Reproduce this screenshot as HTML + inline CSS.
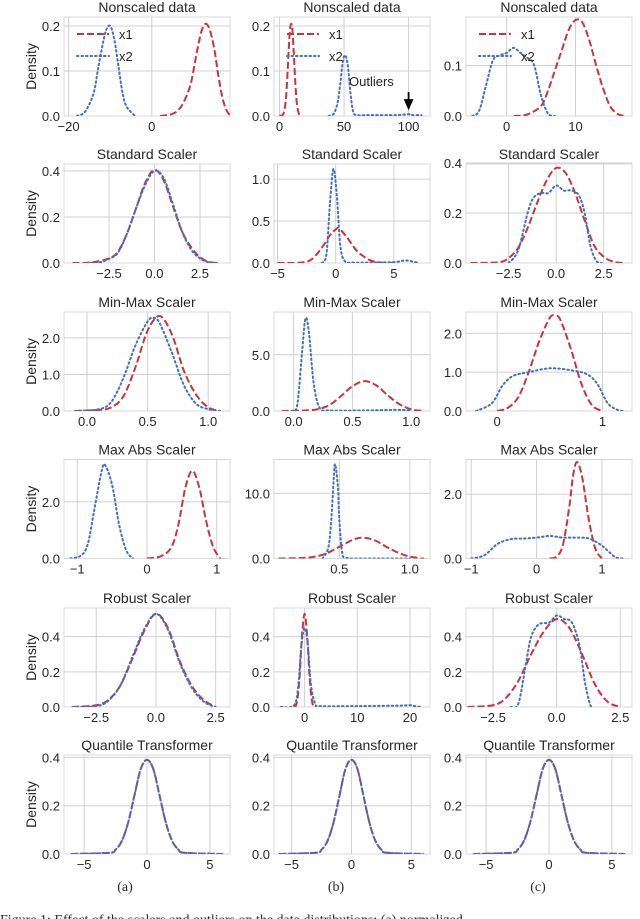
<!DOCTYPE html>
<html><head><meta charset="utf-8">
<style>
html,body{margin:0;padding:0;background:#fff;width:640px;height:919px;overflow:hidden}
svg{display:block}
text{font-family:"Liberation Sans",sans-serif;fill:#262626}
</style></head>
<body>
<svg id="fig" width="640" height="919" viewBox="0 0 640 919" xmlns="http://www.w3.org/2000/svg">
<text x="125" y="891" text-anchor="middle" style="font-family:'Liberation Serif',serif;font-size:14px">(a)</text>
<text x="336" y="891" text-anchor="middle" style="font-family:'Liberation Serif',serif;font-size:14px">(b)</text>
<text x="538" y="891" text-anchor="middle" style="font-family:'Liberation Serif',serif;font-size:14px">(c)</text>
<text x="0" y="924" style="font-family:'Liberation Serif',serif;font-size:14px">Figure 1: Effect of the scalers and outliers on the data distributions: (a) normalized</text>
</svg>
<script>
// ---- data ----
const titles = ["Nonscaled data","Standard Scaler","Min-Max Scaler","Max Abs Scaler","Robust Scaler","Quantile Transformer"];
const colLeft = [64, 274, 466];
const colRight = [230, 430, 632];
const rowBottom = [116, 263, 411, 558.5, 707, 854];
// axis ranges [xmin,xmax,ymax] per panel (row-major)
const xMin = [-21.1,-4.3,-5.9, -4.97,-5.3,-4.74, -0.19,-0.167,-0.295, -1.19,0.037,-1.08, -3.85,-5.8,-3.56, -6.6,-6.47,-6.6];
const xMax = [18.8,116.6,18.2, 4.15,8.1,3.99, 1.18,1.16,1.28, 1.19,1.143,1.46, 3.1,23.8,2.96, 6.6,6.56,6.6];
const yMax = [0.22,0.22,0.196, 0.43,1.18,0.396, 2.71,8.8,2.55, 3.5,15.2,3.08, 0.563,0.563,0.563, 0.41,0.41,0.41];
const yTicks = [[0,0.1,0.2],[0,0.1,0.2],[0,0.1],
 [0,0.2,0.4],[0,0.5,1.0],[0,0.2,0.4],
 [0,1,2],[0,5],[0,1,2],
 [0,2],[0,10],[0,2],
 [0,0.2,0.4],[0,0.2,0.4],[0,0.2,0.4],
 [0,0.2,0.4],[0,0.2,0.4],[0,0.2,0.4]];
const xTicks = [[-20,0],[0,50,100],[0,10],
 [-2.5,0,2.5],[-5,0,5],[-2.5,0,2.5],
 [0,0.5,1],[0,0.5,1],[0,1],
 [-1,0,1],[0.5,1.0],[-1,0,1],
 [-2.5,0,2.5],[0,10,20],[-2.5,0,2.5],
 [-5,0,5],[-5,0,5],[-5,0,5]];
const xTickLabels = [["−20","0"],["0","50","100"],["0","10"],
 ["−2.5","0.0","2.5"],["−5","0","5"],["−2.5","0.0","2.5"],
 ["0.0","0.5","1.0"],["0.0","0.5","1.0"],["0","1"],
 ["−1","0","1"],["0.5","1.0"],["−1","0","1"],
 ["−2.5","0.0","2.5"],["0","10","20"],["−2.5","0.0","2.5"],
 ["−5","0","5"],["−5","0","5"],["−5","0","5"]];
const yTickLabels = [["0.0","0.1","0.2"],["0.0","0.1","0.2"],["0.0","0.1"],
 ["0.0","0.2","0.4"],["0.0","0.5","1.0"],["0.0","0.2","0.4"],
 ["0.0","1.0","2.0"],["0.0","5.0"],["0.0","1.0","2.0"],
 ["0.0","2.0"],["0.0","10.0"],["0.0","2.0"],
 ["0.0","0.2","0.4"],["0.0","0.2","0.4"],["0.0","0.2","0.4"],
 ["0.0","0.2","0.4"],["0.0","0.2","0.4"],["0.0","0.2","0.4"]];
// x1 (red dashed) series
const x1X = [
 [2,5,7,9,10,11,12,13,14,15,16,17,18,19],
 [0,3,5,7,8,9,10,11,13,15,17],
 [1,3,5,6,7,8,9,10,11,12,13,14,15,16,17],
 [-4.5,-3.5,-2.5,-2,-1.5,-1,-0.5,0,0.5,1,1.5,2,2.5,3,3.5],
 [-5,-3,-2,-1,-0.5,0,0.3,1,1.5,2,3,4,5],
 [-4.5,-3,-2.5,-2,-1.5,-1,-0.5,0,0.5,1,1.5,2,2.5,3,3.5],
 [-0.1,0.1,0.2,0.3,0.4,0.5,0.6,0.7,0.8,0.9,1.0,1.1],
 [-0.1,0.1,0.2,0.3,0.4,0.5,0.6,0.7,0.8,0.9,1.0,1.1],
 [0,0.1,0.2,0.3,0.4,0.5,0.55,0.6,0.7,0.8,0.9,1.0],
 [0,0.2,0.35,0.45,0.55,0.65,0.75,0.85,0.95,1.05],
 [0.07,0.2,0.3,0.4,0.5,0.6,0.67,0.75,0.85,0.95,1.05,1.1],
 [0.2,0.3,0.4,0.5,0.56,0.62,0.7,0.8,0.9,1.0],
 [-3.5,-2.5,-2,-1.5,-1,-0.5,0,0.5,1,1.5,2,2.5],
 [-2,-1.5,-1,-0.5,0,0.5,1,1.5,2],
 [-3.5,-2.5,-2,-1.5,-1,-0.5,0,0.5,1,1.5,2,2.5],
 [-6,-3,-2.5,-2,-1.5,-1,-0.5,0,0.5,1,1.5,2,2.5,3,6],
 [-6,-3,-2.5,-2,-1.5,-1,-0.5,0,0.5,1,1.5,2,2.5,3,6],
 [-6,-3,-2.5,-2,-1.5,-1,-0.5,0,0.5,1,1.5,2,2.5,3,6]];
const x1Y = [
 [0,0.005,0.02,0.06,0.1,0.15,0.19,0.205,0.19,0.15,0.09,0.04,0.012,0],
 [0,0.005,0.04,0.14,0.19,0.205,0.19,0.14,0.04,0.005,0],
 [0,0.003,0.02,0.05,0.09,0.13,0.17,0.19,0.185,0.15,0.1,0.055,0.02,0.005,0],
 [0,0.002,0.02,0.05,0.13,0.24,0.35,0.405,0.36,0.25,0.14,0.07,0.025,0.005,0],
 [0,0.005,0.05,0.22,0.33,0.4,0.41,0.3,0.2,0.12,0.03,0.005,0],
 [0,0.003,0.02,0.06,0.14,0.24,0.33,0.38,0.36,0.28,0.17,0.07,0.025,0.005,0],
 [0,0.03,0.1,0.4,1.2,2.2,2.6,2.1,1.1,0.45,0.1,0],
 [0,0.05,0.15,0.5,1.3,2.2,2.65,2.3,1.4,0.6,0.15,0],
 [0,0.08,0.35,1.0,1.8,2.4,2.45,2.35,1.6,0.7,0.15,0],
 [0,0.08,0.4,1.2,2.5,3.1,2.5,1.3,0.4,0],
 [0,0.05,0.2,0.7,1.8,2.9,3.2,2.8,1.6,0.6,0.1,0],
 [0,0.05,0.4,1.6,2.6,3.0,2.5,1.2,0.3,0],
 [0,0.01,0.04,0.12,0.27,0.43,0.53,0.45,0.26,0.12,0.04,0],
 [0,0.02,0.15,0.4,0.53,0.4,0.15,0.02,0],
 [0,0.01,0.05,0.15,0.3,0.43,0.5,0.45,0.3,0.13,0.03,0],
 [0,0.005,0.018,0.054,0.13,0.242,0.352,0.39,0.352,0.242,0.13,0.054,0.018,0.005,0],
 [0,0.005,0.018,0.054,0.13,0.242,0.352,0.39,0.352,0.242,0.13,0.054,0.018,0.005,0],
 [0,0.005,0.018,0.054,0.13,0.242,0.352,0.39,0.352,0.242,0.13,0.054,0.018,0.005,0]];
// x2 (blue dotted) series
const x2X = [
 [-18,-16,-14,-13,-12,-11,-10,-9,-8,-7,-6,-4],
 [38,42,45,47,49,51,53,55,57,60,70,90,100,103,110],
 [-5,-4,-3,-2,-1,0,1,2,3,4,5,6,7],
 [-3.5,-3,-2.5,-2,-1.5,-1,-0.5,0,0.5,1,1.5,2,2.5,3,3.5],
 [-1.2,-0.8,-0.5,-0.2,0.1,0.4,0.8,1.5,3,5,6,7],
 [-2.5,-2,-1.5,-1.2,-0.8,-0.4,0,0.4,0.8,1.2,1.5,1.8,2.1,2.4],
 [-0.1,0.1,0.2,0.3,0.4,0.5,0.55,0.6,0.7,0.8,0.9,1.0,1.1],
 [-0.02,0.03,0.07,0.1,0.13,0.17,0.22,0.3,0.6,0.9,1.0],
 [-0.2,-0.05,0.05,0.15,0.3,0.5,0.7,0.85,0.95,1.05,1.15,1.2],
 [-1.1,-0.95,-0.85,-0.75,-0.65,-0.6,-0.5,-0.4,-0.3,-0.2],
 [0.38,0.42,0.44,0.46,0.47,0.49,0.5,0.52,0.55,0.7,1.0],
 [-1,-0.8,-0.6,-0.4,-0.2,0,0.2,0.4,0.6,0.8,1.0,1.2,1.35],
 [-3.5,-2.5,-2,-1.5,-1,-0.5,0,0.5,1,1.5,2,2.5],
 [-4.5,-2,-1.2,-0.6,0,0.6,1.2,2,3,10,18,20,21,22],
 [-1.8,-1.5,-1.2,-1,-0.7,-0.3,0,0.3,0.6,0.9,1.1,1.3,1.4],
 [-6,-3,-2.5,-2,-1.5,-1,-0.5,0,0.5,1,1.5,2,2.5,3,6],
 [-6,-3,-2.5,-2,-1.5,-1,-0.5,0,0.5,1,1.5,2,2.5,3,6],
 [-6,-3,-2.5,-2,-1.5,-1,-0.5,0,0.5,1,1.5,2,2.5,3,6]];
const x2Y = [
 [0,0.01,0.05,0.1,0.15,0.19,0.2,0.17,0.11,0.05,0.02,0],
 [0,0.005,0.03,0.07,0.12,0.135,0.11,0.05,0.01,0.002,0.002,0.002,0.004,0.002,0.002],
 [0,0.01,0.06,0.11,0.12,0.125,0.135,0.125,0.115,0.1,0.04,0.005,0],
 [0,0.003,0.018,0.045,0.13,0.24,0.34,0.4,0.37,0.26,0.14,0.06,0.02,0.003,0],
 [0,0.1,0.7,1.12,0.8,0.2,0.02,0.005,0.005,0.01,0.03,0.005],
 [0,0.05,0.2,0.26,0.28,0.28,0.31,0.29,0.29,0.27,0.2,0.07,0.01,0],
 [0,0.05,0.25,0.9,1.8,2.45,2.55,2.4,1.6,0.7,0.2,0.05,0],
 [0,0.5,5,8.2,7,2.5,0.3,0.05,0.05,0.1,0.05],
 [0,0.2,0.65,0.9,1.0,1.1,1.05,0.95,0.7,0.2,0.02,0],
 [0,0.1,0.5,1.8,3.1,3.3,2.6,1.2,0.3,0],
 [0,1.5,5,12,14.5,11,6,1,0.1,0,0],
 [0,0.1,0.45,0.6,0.62,0.65,0.7,0.65,0.65,0.62,0.4,0.05,0],
 [0,0.005,0.035,0.12,0.28,0.44,0.53,0.44,0.25,0.11,0.03,0],
 [0,0.01,0.12,0.35,0.45,0.36,0.13,0.02,0.005,0.005,0.008,0.01,0.005,0],
 [0,0.02,0.25,0.4,0.47,0.48,0.52,0.5,0.48,0.35,0.15,0.02,0],
 [0,0.005,0.018,0.054,0.13,0.242,0.352,0.39,0.352,0.242,0.13,0.054,0.018,0.005,0],
 [0,0.005,0.018,0.054,0.13,0.242,0.352,0.39,0.352,0.242,0.13,0.054,0.018,0.005,0],
 [0,0.005,0.018,0.054,0.13,0.242,0.352,0.39,0.352,0.242,0.13,0.054,0.018,0.005,0]];
const legendLabels = ["x1","x2"];

// ---- drawing ----
const NS = "http://www.w3.org/2000/svg";
const svg = document.getElementById("fig");
function mk(tag, attrs, parent){
  const e = document.createElementNS(NS, tag);
  for (const k in attrs) e.setAttribute(k, attrs[k]);
  (parent||svg).appendChild(e);
  return e;
}
function smoothPath(pts){
  let d = "M" + pts[0][0].toFixed(2) + "," + pts[0][1].toFixed(2);
  for (let i=0;i<pts.length-1;i++){
    const p0 = pts[Math.max(0,i-1)], p1 = pts[i], p2 = pts[i+1], p3 = pts[Math.min(pts.length-1,i+2)];
    const c1x = p1[0]+(p2[0]-p0[0])/6, c1y = p1[1]+(p2[1]-p0[1])/6;
    const c2x = p2[0]-(p3[0]-p1[0])/6, c2y = p2[1]-(p3[1]-p1[1])/6;
    d += " C"+c1x.toFixed(2)+","+c1y.toFixed(2)+" "+c2x.toFixed(2)+","+c2y.toFixed(2)+" "+p2[0].toFixed(2)+","+p2[1].toFixed(2);
  }
  return d;
}
const plotH = 99;
for (let r=0;r<6;r++){
  for (let c=0;c<3;c++){
    const i = r*3+c;
    const L = colLeft[c], R = colRight[c], B = rowBottom[r], T = B - plotH;
    const sx = v => L + (v - xMin[i])/(xMax[i]-xMin[i])*(R-L);
    const sy = v => B - v/yMax[i]*(B-T);
    const g = mk("g", {});
    
    
    const clipId = "clip"+i;
    const cp = mk("clipPath", {id: clipId}, g);
    mk("rect", {x:L, y:T, width:R-L, height:B-T}, cp);
    // grid
    xTicks[i].forEach((t,k)=>{
      const x = sx(t);
      const gl = mk("line", {x1:x, x2:x, y1:T, y2:B, stroke:"#d0d0d0", "stroke-width":1}, g);
      
      
      const tl = mk("text", {x:x, y:B+15, "text-anchor":"middle", "font-size":"13"}, g);
      tl.textContent = xTickLabels[i][k];
      
      
    });
    yTicks[i].forEach((t,k)=>{
      const y = sy(t);
      const gl = mk("line", {x1:L, x2:R, y1:y, y2:y, stroke:"#d0d0d0", "stroke-width":1}, g);
      
      
      const tl = mk("text", {x:L-4, y:y+5, "text-anchor":"end", "font-size":"13"}, g);
      tl.textContent = yTickLabels[i][k];
      
      
    });
    const frame = mk("rect", {x:L, y:T, width:R-L, height:B-T, fill:"none", stroke:"#d8d8d8", "stroke-width":1}, g);
    
    
    const ti = mk("text", {x:(L+R)/2, y:T-5, "text-anchor":"middle", "font-size":"14"}, g);
    ti.textContent = titles[r];
    
    
    if (c===0){
      const yl = mk("text", {x:0, y:0, "text-anchor":"middle", "font-size":"14", transform:"translate(36,"+((T+B)/2)+") rotate(-90)"}, g);
      yl.textContent = "Density";
      
      
    }
    // series
    const p1 = mk("path", {d: smoothPath(x1X[i].map((x,k)=>[sx(x), sy(x1Y[i][k])])), fill:"none", stroke:"#c9343f", "stroke-width":2, "stroke-dasharray":"7,3", "clip-path":"url(#"+clipId+")"}, g);
    
    
    const p2 = mk("path", {d: smoothPath(x2X[i].map((x,k)=>[sx(x), sy(x2Y[i][k])])), fill:"none", stroke:"#3f6fc0", "stroke-width":2, "stroke-dasharray":"1.5,3", "stroke-linecap":"round", "clip-path":"url(#"+clipId+")"}, g);
    
    
    if (r===0){
      const lx = L + 13;
      const lg = mk("g", {}, g);
      
      
      const l1 = mk("line", {x1:lx, x2:lx+32, y1:34, y2:34, stroke:"#c9343f", "stroke-width":2, "stroke-dasharray":"7,3"}, lg);
      
      
      const t1 = mk("text", {x:lx+42, y:39, "font-size":"13"}, lg);
      t1.textContent = legendLabels[0];
      
      
      const l2 = mk("line", {x1:lx, x2:lx+32, y1:56, y2:56, stroke:"#3f6fc0", "stroke-width":2, "stroke-dasharray":"1.5,3", "stroke-linecap":"round"}, lg);
      
      
      const t2 = mk("text", {x:lx+42, y:61, "font-size":"13"}, lg);
      t2.textContent = legendLabels[1];
      
      
    }
    if (i===1){
      const ot = mk("text", {x:349, y:86, "font-size":"13"}, g);
      ot.textContent = "Outliers";
      
      
      const ax = sx(100);
      const ar = mk("path", {d:"M"+ax+",92 L"+ax+",104 M"+(ax-3.5)+",100 L"+ax+",108 L"+(ax+3.5)+",100 Z", stroke:"#000", "stroke-width":1.8, fill:"#000"}, g);
      
      
    }
  }
}
</script>
</body></html>
